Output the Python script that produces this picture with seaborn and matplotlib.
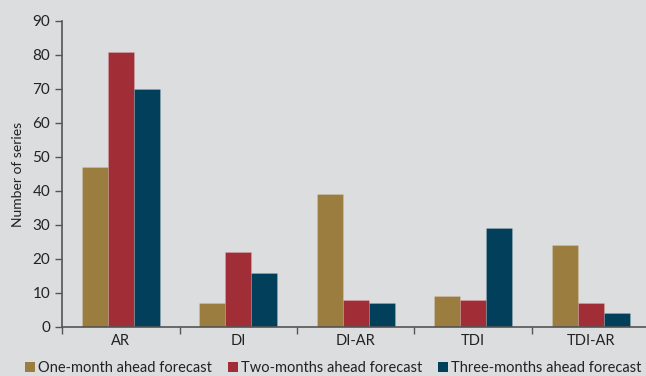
import matplotlib
matplotlib.use("Agg")
import matplotlib.pyplot as plt
import seaborn as sns
import pandas as pd
from matplotlib.patches import Patch

models = ["AR", "DI", "DI-AR", "TDI", "TDI-AR"]
horizons = ["One-month ahead forecast", "Two-months ahead forecast", "Three-months ahead forecast"]
one_month = [47, 7, 39, 9, 24]
two_months = [81, 22, 8, 8, 7]
three_months = [70, 16, 7, 29, 4]
colors = ["#9B7D40", "#A12D36", "#013F5B"]

df = pd.DataFrame({
    "model": models * 3,
    "horizon": [horizons[0]] * 5 + [horizons[1]] * 5 + [horizons[2]] * 5,
    "count": one_month + two_months + three_months,
})

sns.set_theme(style="white")
plt.rcParams["font.family"] = ["Lato", "DejaVu Sans"]
bg = "#DCDDDF"

fig = plt.figure(figsize=(6.46, 3.76), dpi=100, facecolor=bg)
ax = fig.add_axes([62 / 646, 49 / 376, 587.5 / 646, 306 / 376], facecolor=bg)

sns.barplot(data=df, x="model", y="count", hue="horizon", order=models,
            hue_order=horizons, palette=colors, saturation=1, width=0.66, gap=0,
            edgecolor=(1, 1, 1, 0.25), linewidth=0.4, ax=ax, legend=False)

ax.set_xlim(-0.5, 4.5)
ax.set_ylim(0, 90)
ax.set_yticks(range(0, 91, 10))
ax.set_xlabel("")
ax.set_ylabel("Number of series", fontsize=10, color="#222222", labelpad=6)

for s in ["top", "right"]:
    ax.spines[s].set_visible(False)
for s in ["left", "bottom"]:
    ax.spines[s].set_color("#555555")
    ax.spines[s].set_linewidth(1.2)

ax.tick_params(axis="y", which="major", direction="out", length=5, width=1,
               color="#555555", labelsize=11, labelcolor="#222222", left=True)
# category labels centred, ticks drawn on the category boundaries
ax.set_xticks(range(len(models)))
ax.set_xticklabels(models, fontsize=10.5, color="#222222")
ax.tick_params(axis="x", which="major", length=0, pad=5)
ax.set_xticks([i - 0.5 for i in range(len(models) + 1)], minor=True)
ax.tick_params(axis="x", which="minor", direction="out", length=5, width=1,
               color="#555555", bottom=True)

handles = [Patch(facecolor=c, edgecolor="none") for c in colors]
fig.legend(handles, horizons, loc="center left", bbox_to_anchor=(25 / 646, 8 / 376),
           ncol=3, frameon=False, fontsize=10.5, handlelength=0.68, handleheight=0.68,
           handletextpad=0.2, columnspacing=1.1, borderaxespad=0, borderpad=0,
           labelcolor="#222222")

fig.savefig("out.png", dpi=100, facecolor=bg)
